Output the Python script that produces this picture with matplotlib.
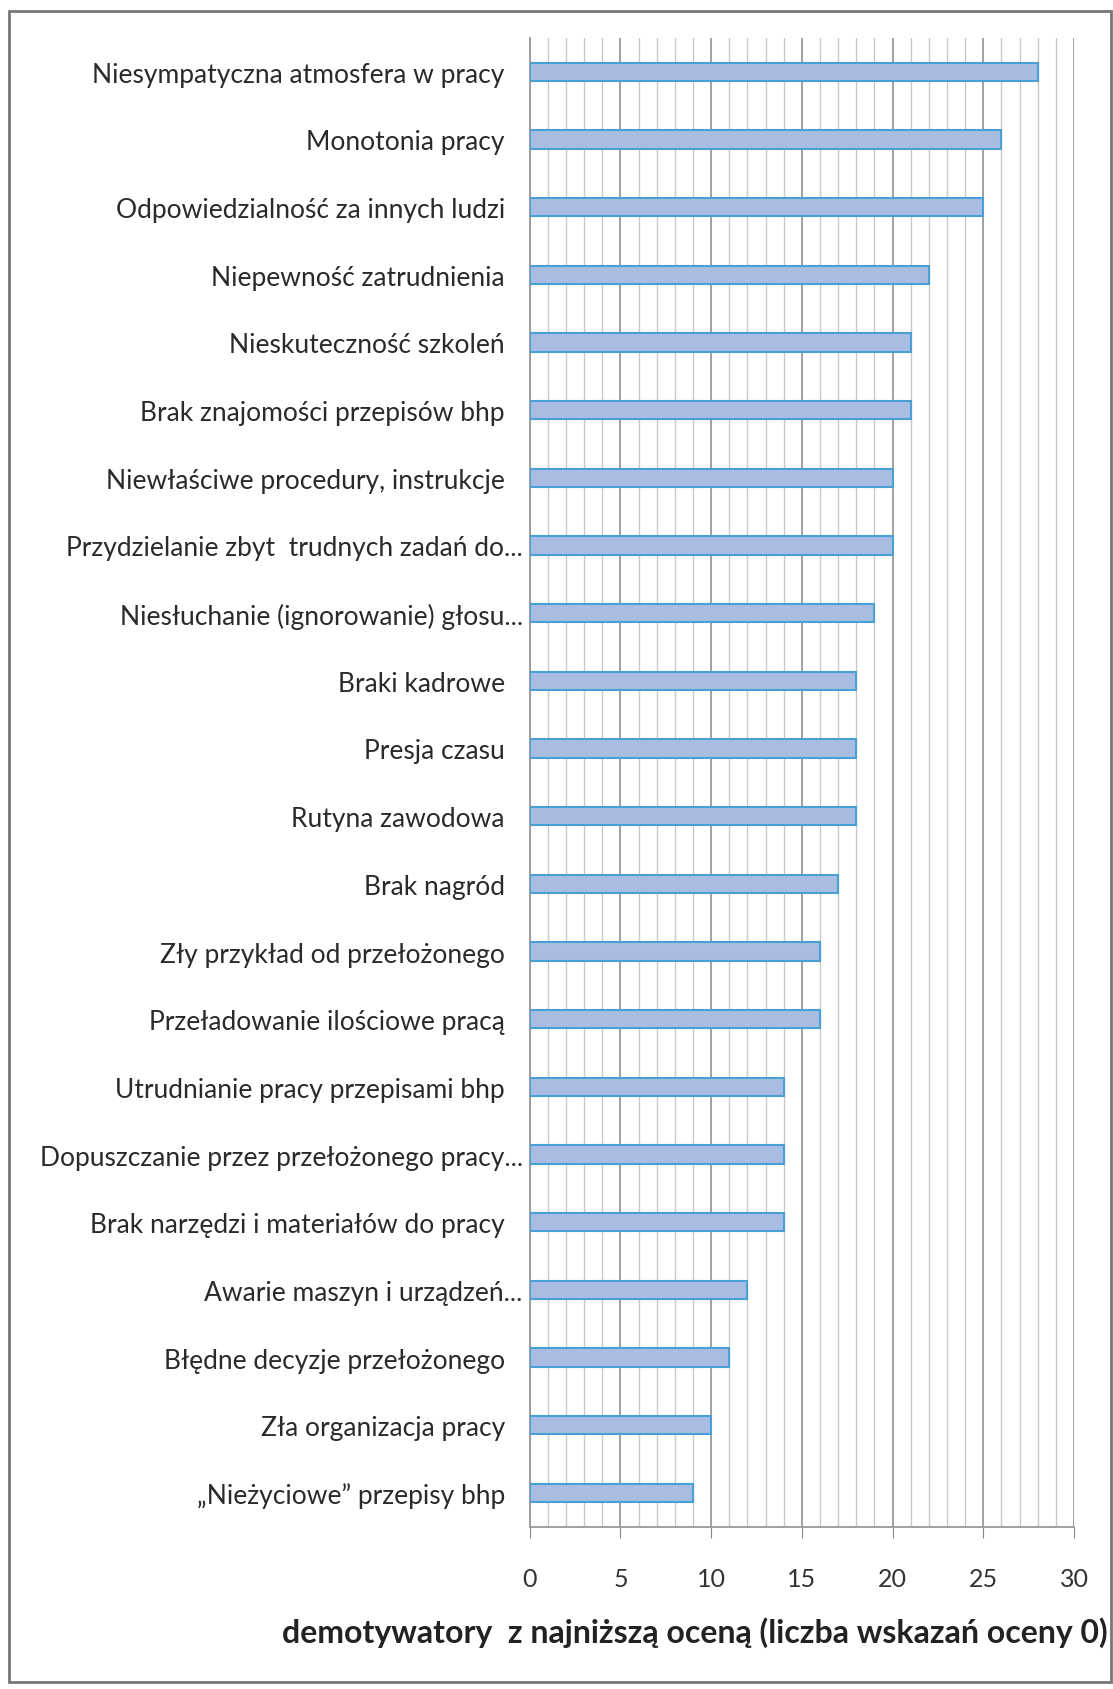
import matplotlib.pyplot as plt
from matplotlib.patches import Rectangle
from matplotlib.transforms import ScaledTranslation

plt.rcParams['font.family'] = ['Lato', 'DejaVu Sans']

categories = [
    "Niesympatyczna atmosfera w pracy",
    "Monotonia pracy",
    "Odpowiedzialność za innych ludzi",
    "Niepewność zatrudnienia",
    "Nieskuteczność szkoleń",
    "Brak znajomości przepisów bhp",
    "Niewłaściwe procedury, instrukcje",
    "Przydzielanie zbyt  trudnych zadań do...",
    "Niesłuchanie (ignorowanie) głosu...",
    "Braki kadrowe",
    "Presja czasu",
    "Rutyna zawodowa",
    "Brak nagród",
    "Zły przykład od przełożonego",
    "Przeładowanie ilościowe pracą",
    "Utrudnianie pracy przepisami bhp",
    "Dopuszczanie przez przełożonego pracy...",
    "Brak narzędzi i materiałów do pracy",
    "Awarie maszyn i urządzeń...",
    "Błędne decyzje przełożonego",
    "Zła organizacja pracy",
    "\u201eNieżyciowe\u201d przepisy bhp",
]
values = [28, 26, 25, 22, 21, 21, 20, 20, 19, 18, 18, 18, 17, 16, 16, 14, 14, 14, 12, 11, 10, 9]

fig = plt.figure(figsize=(11.13, 16.9), dpi=100)
ax = fig.add_axes([0.476, 0.096, 0.489, 0.881])

pos = list(range(len(categories)))
ax.barh(pos, values, height=0.27, color='#a9bde3', edgecolor='#4a9fd4', linewidth=1.5, zorder=3)

ax.set_ylim(len(categories) - 0.5, -0.5)
ax.set_xlim(0, 30)
ax.set_yticks(pos)
ax.set_yticklabels(categories, fontsize=19, color='#2a2a2a')
ax.tick_params(axis='y', length=0, pad=18)

# truncated labels stick out a bit to the right, like in Excel
shift = ScaledTranslation(13 / 72, 0, fig.dpi_scale_trans)
for lbl in ax.get_yticklabels():
    if lbl.get_text().endswith('...'):
        lbl.set_transform(lbl.get_transform() + shift)

ax.set_xticks(range(0, 31, 5))
ax.set_xticks(range(0, 31), minor=True)
ax.tick_params(axis='x', which='major', length=8, color='#888888', labelsize=18,
               labelcolor='#333333', pad=21)
ax.tick_params(axis='x', which='minor', length=0)
ax.grid(axis='x', which='minor', color='#c8c8c8', linewidth=1.0, zorder=0)
ax.grid(axis='x', which='major', color='#9a9a9a', linewidth=1.3, zorder=1)

for s in ['top', 'right']:
    ax.spines[s].set_visible(False)
ax.spines['left'].set_color('#999999')
ax.spines['bottom'].set_color('#999999')
ax.spines['left'].set_linewidth(1.3)
ax.spines['bottom'].set_linewidth(1.3)

fig.text(0.624, 0.034, "demotywatory  z najniższą oceną (liczba wskazań oceny 0)",
         fontsize=23, fontweight='bold', color='#222222', ha='center', va='center')

fig.patches.append(Rectangle((0.008, 0.004), 0.99, 0.989, transform=fig.transFigure,
                             fill=False, edgecolor='#777777', linewidth=2))

fig.savefig('out.png', dpi=100)
